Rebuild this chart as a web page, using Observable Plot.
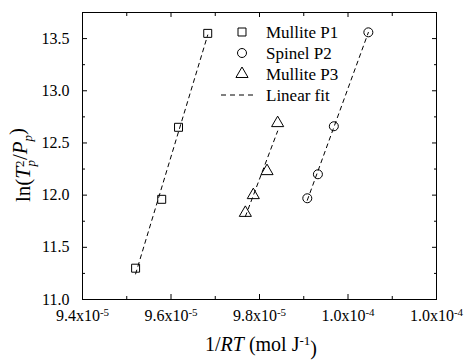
<!DOCTYPE html>
<html>
<head>
<meta charset="utf-8">
<script src="https://cdn.jsdelivr.net/npm/d3@7"></script>
<script src="https://cdn.jsdelivr.net/npm/@observablehq/plot@0.6"></script>
<style>
  html, body { margin: 0; padding: 0; background: white; }
</style>
</head>
<body>
<div id="chart"></div>
<script>
const seriesNames = ["Mullite P1", "Spinel P2", "Mullite P3"];
const seriesSymbols = ["square", "circle", "triangle"];
const p1X = [9.520e-5, 9.579e-5, 9.617e-5, 9.683e-5];
const p1Y = [11.30, 11.96, 12.65, 13.55];
const p2X = [9.908e-5, 9.932e-5, 9.968e-5, 10.046e-5];
const p2Y = [11.97, 12.20, 12.66, 13.56];
const p3X = [9.768e-5, 9.786e-5, 9.817e-5, 9.841e-5];
const p3Y = [11.83, 12.00, 12.23, 12.69];
const fitLabel = "Linear fit";

const xMajor = [9.4e-5, 9.6e-5, 9.8e-5, 1.0e-4, 1.02e-4];
const xTickLabels = ["9.4x10|-5", "9.6x10|-5", "9.8x10|-5", "1.0x10|-4", "1.0x10|-4"];
const xMinor = [9.5e-5, 9.7e-5, 9.9e-5, 1.01e-4];
const yMajor = [11.0, 11.5, 12.0, 12.5, 13.0, 13.5];
const yMinor = [11.25, 11.75, 12.25, 12.75, 13.25];

const data = [];
[[p1X, p1Y], [p2X, p2Y], [p3X, p3Y]].forEach(([xs, ys], k) => {
  xs.forEach((x, i) => data.push({series: seriesNames[k], x, y: ys[i]}));
});
const xLabelMap = new Map(xMajor.map((v, i) => [v, xTickLabels[i]]));

const FONT = "Liberation Serif";
const chart = Plot.plot({
  width: 465, height: 360,
  marginLeft: 82, marginRight: 29, marginTop: 12, marginBottom: 61,
  style: {fontSize: "16px", background: "white", color: "black"},
  x: {domain: [9.4e-5, 1.02e-4]},
  y: {domain: [11, 13.75]},
  symbol: {domain: seriesNames, range: seriesSymbols},
  marks: [
    Plot.frame({stroke: "black", strokeWidth: 1}),
    Plot.axisX(xMajor, {tickSize: -5, tickPadding: 15, tickFormat: d => xLabelMap.get(d), label: null, fontFamily: FONT}),
    Plot.axisX(xMinor, {tickSize: -3, tickFormat: () => "", label: null}),
    Plot.axisX(xMajor, {anchor: "top", tickSize: -4, tickFormat: () => "", label: null}),
    Plot.axisX(xMinor, {anchor: "top", tickSize: -3, tickFormat: () => "", label: null}),
    Plot.axisY(yMajor, {tickSize: -5, tickPadding: 18, tickFormat: d3.format(".1f"), label: null, fontFamily: FONT}),
    Plot.axisY(yMinor, {tickSize: -3, tickFormat: () => "", label: null}),
    Plot.axisY(yMajor, {anchor: "right", tickSize: -5, tickFormat: () => "", label: null}),
    Plot.axisY(yMinor, {anchor: "right", tickSize: -3, tickFormat: () => "", label: null}),
    Plot.linearRegressionY(data, {x: "x", y: "y", z: "series", stroke: "black", strokeWidth: 1, strokeDasharray: "4,4", ci: 0}),
    Plot.dot(data, {x: "x", y: "y", symbol: "series", r: 4.5, stroke: "black", strokeWidth: 1, fill: "none"})
  ]
});
document.getElementById("chart").appendChild(chart);

const svg = d3.select(chart);
svg.attr("font-family", FONT).style("font-family", FONT);

// superscript exponents on x tick labels
svg.selectAll("text").each(function() {
  const t = this.textContent;
  if (t && t.includes("|")) {
    const [m, e] = t.split("|");
    const sel = d3.select(this);
    sel.text(null);
    sel.append("tspan").text(m);
    sel.append("tspan").attr("dy", "-0.45em").attr("font-size", "11px").text(e);
  }
});

// legend
const lg = svg.append("g");
const rowsY = [32, 53, 74, 95];
seriesNames.forEach((name, i) => {
  const sym = {square: d3.symbolSquare, circle: d3.symbolCircle, triangle: d3.symbolTriangle}[seriesSymbols[i]];
  lg.append("path")
    .attr("d", d3.symbol(sym, Math.PI * 4.5 * 4.5)())
    .attr("transform", `translate(242,${rowsY[i]})`)
    .attr("fill", "none").attr("stroke", "black").attr("stroke-width", 1);
  lg.append("text").attr("x", 266).attr("y", rowsY[i]).attr("dy", "0.35em")
    .attr("font-size", 17).attr("text-anchor", "start").text(name);
});
lg.append("line").attr("x1", 221).attr("x2", 257).attr("y1", rowsY[3]).attr("y2", rowsY[3])
  .attr("stroke", "black").attr("stroke-width", 1).attr("stroke-dasharray", "5,4");
lg.append("text").attr("x", 266).attr("y", rowsY[3]).attr("dy", "0.35em")
  .attr("font-size", 17).attr("text-anchor", "start").text(fitLabel);

// x axis title
const xt = svg.append("text").attr("x", 261).attr("y", 351).attr("text-anchor", "middle")
  .attr("font-size", 20);
xt.append("tspan").text("1/");
xt.append("tspan").attr("font-style", "italic").text("RT");
xt.append("tspan").text(" (mol J");
xt.append("tspan").attr("dy", "-0.5em").attr("font-size", 13).text("-1");
xt.append("tspan").attr("dy", "0.5em").text(")");

// y axis title
const yt = svg.append("text").attr("transform", "translate(30,165) rotate(-90)").attr("text-anchor", "middle")
  .attr("font-size", 21);
yt.append("tspan").text("ln(");
yt.append("tspan").attr("font-style", "italic").text("T");
yt.append("tspan").attr("dy", "-0.5em").attr("font-size", 13).text("2");
yt.append("tspan").attr("dx", "-6").attr("dy", "0.9em").attr("font-size", 13).attr("font-style", "italic").text("p");
yt.append("tspan").attr("dy", "-0.4em").text("/");
yt.append("tspan").attr("font-style", "italic").text("P");
yt.append("tspan").attr("dy", "0.4em").attr("font-size", 13).attr("font-style", "italic").text("p");
yt.append("tspan").attr("dy", "-0.4em").text(")");

// force the serif family on every text node
svg.selectAll("g, text, tspan").attr("font-family", FONT).style("font-family", FONT, "important");
</script>
</body>
</html>
